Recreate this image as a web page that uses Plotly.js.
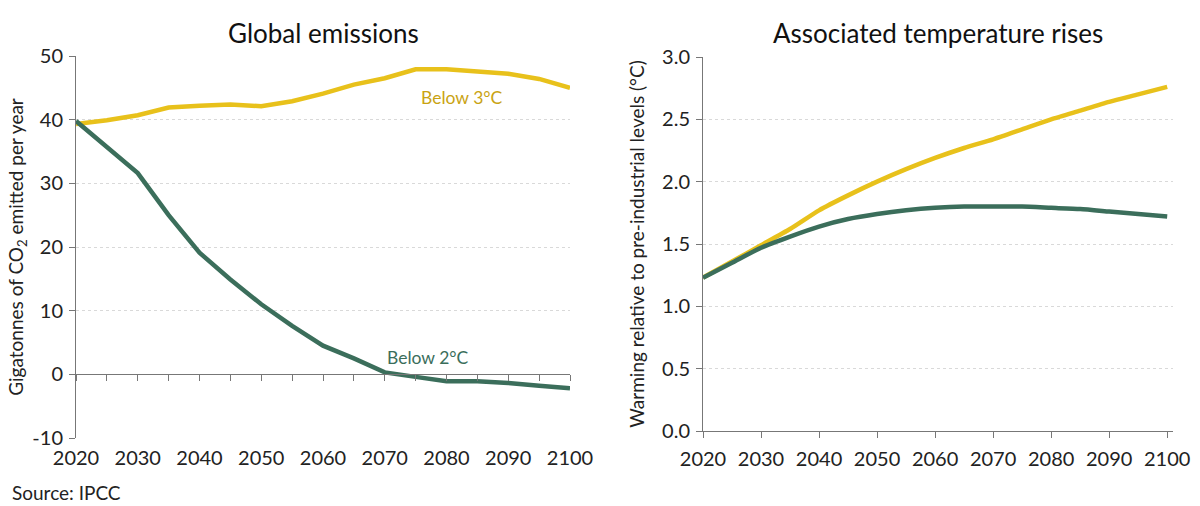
<!DOCTYPE html>
<html>
<head>
<meta charset="utf-8">
<script src="https://cdn.plot.ly/plotly-3.0.1.min.js"></script>
<style>html,body{margin:0;padding:0;background:#fff}#chart{width:1200px;height:506px}</style>
</head>
<body>
<div id="chart"></div>
<script>
const years = [2020,2025,2030,2035,2040,2045,2050,2055,2060,2065,2070,2075,2080,2085,2090,2095,2100];
const emissionsBelow3 = [39.3,39.9,40.7,41.9,42.2,42.4,42.1,42.9,44.1,45.5,46.5,47.9,47.9,47.6,47.2,46.4,45.0];
const emissionsBelow2 = [39.8,35.8,31.6,25.0,19.1,14.9,11.0,7.6,4.5,2.5,0.3,-0.4,-1.1,-1.1,-1.35,-1.8,-2.2];
const tempBelow3 = [1.23,1.36,1.49,1.62,1.77,1.89,2.00,2.10,2.19,2.27,2.34,2.42,2.50,2.57,2.64,2.70,2.76];
const tempBelow2 = [1.23,1.35,1.47,1.56,1.64,1.70,1.74,1.77,1.79,1.80,1.80,1.80,1.79,1.78,1.76,1.74,1.72];
const seriesNames = ['Below 3°C','Below 2°C'];
const yearTicks = [2020,2030,2040,2050,2060,2070,2080,2090,2100];
const emissionTicks = [-10,0,10,20,30,40,50];
const emissionTickText = ['-10','0','10','20','30','40','50'];
const tempTicks = [0,0.5,1,1.5,2,2.5,3];
const tempTickText = ['0.0','0.5','1.0','1.5','2.0','2.5','3.0'];

const YELLOW = '#E8C11B';
const GREEN = '#3B6E5B';
const FONT = 'Lato, "Noto Sans", sans-serif';

const traces = [
  {x: years, y: emissionsBelow3, name: seriesNames[0], type: 'scatter', mode: 'lines', line: {color: YELLOW, width: 4.5}, xaxis: 'x', yaxis: 'y'},
  {x: years, y: emissionsBelow2, name: seriesNames[1], type: 'scatter', mode: 'lines', line: {color: GREEN, width: 4.5}, xaxis: 'x', yaxis: 'y'},
  {x: years, y: tempBelow3, name: seriesNames[0], type: 'scatter', mode: 'lines', line: {color: YELLOW, width: 4.5, shape: 'spline', smoothing: 0.6}, xaxis: 'x2', yaxis: 'y2'},
  {x: years, y: tempBelow2, name: seriesNames[1], type: 'scatter', mode: 'lines', line: {color: GREEN, width: 4.5, shape: 'spline', smoothing: 0.6}, xaxis: 'x2', yaxis: 'y2'},
  /* invisible copy so the zero-line axis (x3) is drawn */
  {x: years, y: emissionsBelow2, type: 'scatter', mode: 'lines', opacity: 0, line: {width: 0}, hoverinfo: 'skip', xaxis: 'x3', yaxis: 'y'}
];

const tickFont = {family: FONT, size: 20, color: '#222'};
const gridStyle = {showgrid: true, gridcolor: '#d9d9d9', griddash: 'dot', gridwidth: 1};
const AX = '#777';

const leftDom = [76/1200, 570/1200];
const rightDom = [703/1200, 1173/1200];
const y0paper = 1 - 374/506;

const layout = {
  width: 1200, height: 506,
  margin: {l: 0, r: 0, t: 0, b: 0},
  paper_bgcolor: '#fff', plot_bgcolor: 'rgba(0,0,0,0)',
  showlegend: false,
  font: {family: FONT, color: '#222'},
  xaxis: {
    domain: leftDom, anchor: 'y', range: [2020, 2100],
    tickvals: yearTicks, ticks: '', showline: false, showgrid: false, zeroline: false,
    tickfont: tickFont, ticklabelstandoff: 6
  },
  xaxis3: {
    domain: leftDom, anchor: 'free', position: y0paper, overlaying: 'x', range: [2020, 2100],
    dtick: 5, tick0: 2020, ticks: 'outside', ticklen: 6, tickcolor: AX, tickwidth: 1,
    showline: true, linecolor: AX, linewidth: 1, showticklabels: false, showgrid: false, zeroline: false
  },
  yaxis: {
    domain: [1 - 438/506, 1 - 56/506], anchor: 'x', range: [-10, 50],
    tickvals: emissionTicks, ticktext: emissionTickText, ticks: 'outside', ticklen: 6, tickcolor: AX,
    showline: true, linecolor: AX, linewidth: 1, zeroline: false,
    ...gridStyle, tickfont: tickFont, ticklabelstandoff: 2,
    title: {text: 'Gigatonnes of CO<sub>2</sub> emitted per year', font: {family: FONT, size: 19, color: '#222'}, standoff: 3}
  },
  xaxis2: {
    domain: rightDom, anchor: 'y2', range: [2020, 2101],
    tickvals: yearTicks, ticks: 'outside', ticklen: 6, tickcolor: AX,
    showline: true, linecolor: AX, linewidth: 1, showgrid: false, zeroline: false,
    tickfont: tickFont, ticklabelstandoff: 4
  },
  yaxis2: {
    domain: [1 - 431/506, 1 - 57/506], anchor: 'x2', range: [0, 3.0],
    tickvals: tempTicks, ticktext: tempTickText,
    ticks: 'outside', ticklen: 6, tickcolor: AX,
    showline: true, linecolor: AX, linewidth: 1, zeroline: false,
    ...gridStyle, tickfont: tickFont, ticklabelstandoff: 2,
    title: {text: 'Warming relative to pre-industrial levels (°C)', font: {family: FONT, size: 19, color: '#222'}, standoff: 12}
  },
  annotations: [
    {text: 'Global emissions', xref: 'paper', yref: 'paper', x: (leftDom[0]+leftDom[1])/2, y: 1 - 33/506, showarrow: false, font: {family: FONT, size: 26, color: '#111'}, xanchor: 'center', yanchor: 'middle'},
    {text: 'Associated temperature rises', xref: 'paper', yref: 'paper', x: (rightDom[0]+rightDom[1])/2, y: 1 - 33/506, showarrow: false, font: {family: FONT, size: 26, color: '#111'}, xanchor: 'center', yanchor: 'middle'},
    {text: seriesNames[0], xref: 'x', yref: 'y', x: 2082.5, y: 43.5, showarrow: false, font: {family: FONT, size: 17.5, color: '#C9A312'}},
    {text: seriesNames[1], xref: 'x', yref: 'y', x: 2077, y: 2.6, showarrow: false, font: {family: FONT, size: 17.5, color: GREEN}},
    {text: 'Source: IPCC', xref: 'paper', yref: 'paper', x: 10/1200, y: 1 - 492/506, showarrow: false, xanchor: 'left', yanchor: 'middle', font: {family: FONT, size: 19, color: '#222'}}
  ]
};

Plotly.newPlot('chart', traces, layout, {staticPlot: true, displayModeBar: false});
</script>
</body>
</html>
